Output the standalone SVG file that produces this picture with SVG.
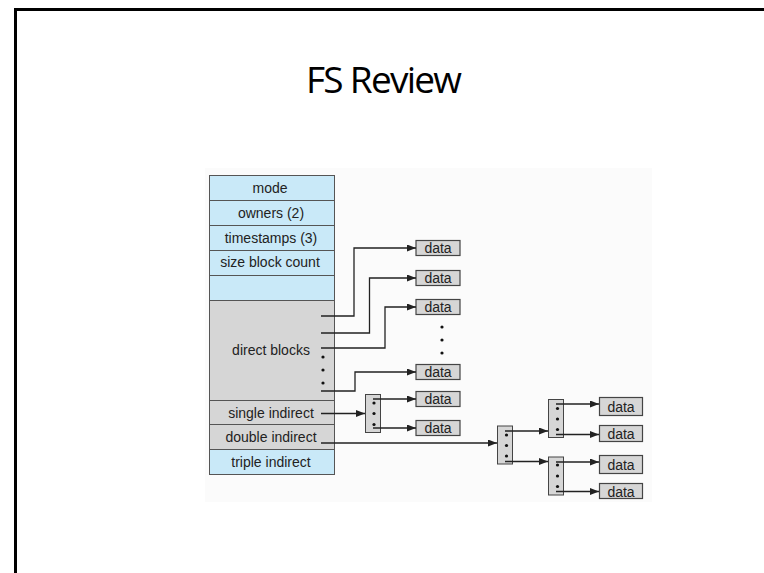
<svg xmlns="http://www.w3.org/2000/svg" width="764" height="573" viewBox="0 0 764 573">
<style>
.frame{fill:none;stroke:#000;stroke-width:3}
.title{font-family:"Open Sans","Liberation Sans",sans-serif;font-size:37px;fill:#000}
.lbl{font-family:"Liberation Sans",Arial,sans-serif;font-size:14px;fill:#222;text-anchor:middle}
.blue{fill:#c9e9f8;stroke:#555;stroke-width:1}
.gray{fill:#d6d6d6;stroke:#555;stroke-width:1}
.ptr{fill:#d6d6d6;stroke:#444;stroke-width:1}
.data{fill:#d6d6d6;stroke:#444;stroke-width:1.2}
.dot{fill:#111}
.wire{fill:none;stroke:#222;stroke-width:1.3}
</style>
<defs>
<marker id="ah" markerWidth="9" markerHeight="7" refX="9" refY="3.5" orient="auto" markerUnits="userSpaceOnUse">
<path d="M0,0 L9,3.5 L0,7 Z" fill="#222"/>
</marker>
</defs>
<rect width="764" height="573" fill="#fff"/>
<rect class="frame" x="15.5" y="9.5" width="760" height="580"/>
<text class="title" x="306" y="93" textLength="156">FS Review</text>
<rect x="205" y="168" width="447" height="334" fill="#fbfbfb"/>

<g id="inode">
<rect class="blue" x="209.5" y="175.5" width="125" height="25"/>
<text class="lbl" x="270" y="192.5">mode</text>
<rect class="blue" x="209.5" y="200.5" width="125" height="25"/>
<text class="lbl" x="271" y="217.5">owners (2)</text>
<rect class="blue" x="209.5" y="225.5" width="125" height="25"/>
<text class="lbl" x="271" y="242.5">timestamps (3)</text>
<rect class="blue" x="209.5" y="250.5" width="125" height="25"/>
<text class="lbl" x="270" y="266.5">size block count</text>
<rect class="blue" x="209.5" y="275.5" width="125" height="25"/>
<rect class="gray" x="209.5" y="300.5" width="125" height="100"/>
<text class="lbl" x="271" y="355">direct blocks</text>
<circle class="dot" cx="323" cy="357" r="1.6"/>
<circle class="dot" cx="323" cy="370" r="1.6"/>
<circle class="dot" cx="323" cy="383" r="1.6"/>
<rect class="gray" x="209.5" y="400.5" width="125" height="24"/>
<text class="lbl" x="271" y="418">single indirect</text>
<rect class="gray" x="209.5" y="424.5" width="125" height="25"/>
<text class="lbl" x="271" y="442">double indirect</text>
<rect class="blue" x="209.5" y="449.5" width="125" height="25"/>
<text class="lbl" x="271" y="466.5">triple indirect</text>
</g>

<g id="data-direct">
<rect class="data" x="416" y="240.5" width="44" height="15"/><text class="lbl" x="438" y="253">data</text>
<rect class="data" x="416" y="270.5" width="44" height="15"/><text class="lbl" x="438" y="283">data</text>
<rect class="data" x="416" y="299.5" width="44" height="15"/><text class="lbl" x="438" y="312">data</text>
<circle class="dot" cx="442" cy="327" r="1.6"/>
<circle class="dot" cx="442" cy="340" r="1.6"/>
<circle class="dot" cx="442" cy="353" r="1.6"/>
<rect class="data" x="416" y="364.5" width="44" height="15"/><text class="lbl" x="438" y="377">data</text>
</g>

<g id="single-block">
<rect class="ptr" x="365.5" y="394.5" width="15" height="38"/>
<circle class="dot" cx="374" cy="403" r="1.6"/>
<circle class="dot" cx="374" cy="413.5" r="1.6"/>
<circle class="dot" cx="374" cy="424.5" r="1.6"/>
</g>
<g id="data-single">
<rect class="data" x="416" y="391.5" width="44" height="15"/><text class="lbl" x="438" y="404">data</text>
<rect class="data" x="416" y="420.5" width="44" height="15"/><text class="lbl" x="438" y="433">data</text>
</g>

<g id="double-block">
<rect class="ptr" x="497.5" y="426" width="15" height="38"/>
<circle class="dot" cx="506.5" cy="435" r="1.6"/>
<circle class="dot" cx="506.5" cy="445.5" r="1.6"/>
<circle class="dot" cx="506.5" cy="456" r="1.6"/>
</g>
<g id="double-sub1">
<rect class="ptr" x="548.5" y="399.5" width="15" height="38"/>
<circle class="dot" cx="557.5" cy="408.5" r="1.6"/>
<circle class="dot" cx="557.5" cy="419" r="1.6"/>
<circle class="dot" cx="557.5" cy="429.5" r="1.6"/>
</g>
<g id="double-sub2">
<rect class="ptr" x="548.5" y="457" width="15" height="38"/>
<circle class="dot" cx="557.5" cy="465" r="1.6"/>
<circle class="dot" cx="557.5" cy="476" r="1.6"/>
<circle class="dot" cx="557.5" cy="486.5" r="1.6"/>
</g>
<g id="data-double">
<rect class="data" x="599.5" y="397.5" width="43" height="18"/><text class="lbl" x="621" y="411.5">data</text>
<rect class="data" x="599.5" y="425.5" width="43" height="16"/><text class="lbl" x="621" y="438.5">data</text>
<rect class="data" x="599.5" y="455.5" width="43" height="18"/><text class="lbl" x="621" y="469.5">data</text>
<rect class="data" x="599.5" y="483.5" width="43" height="15"/><text class="lbl" x="621" y="496.5">data</text>
</g>

<g id="connectors">
<path class="wire" d="M321,316 H354 V248 H416" marker-end="url(#ah)"/>
<path class="wire" d="M321,333 H369.5 V278 H416" marker-end="url(#ah)"/>
<path class="wire" d="M321,348 H385 V307 H416" marker-end="url(#ah)"/>
<path class="wire" d="M321,391 H355 V372 H416" marker-end="url(#ah)"/>
<path class="wire" d="M321,413.5 H365" marker-end="url(#ah)"/>
<path class="wire" d="M373,399 H416" marker-end="url(#ah)"/>
<path class="wire" d="M373,428 H416" marker-end="url(#ah)"/>
<path class="wire" d="M321,443 H497" marker-end="url(#ah)"/>
<path class="wire" d="M505,431 H548" marker-end="url(#ah)"/>
<path class="wire" d="M505,461.5 H548" marker-end="url(#ah)"/>
<path class="wire" d="M556,404 H599" marker-end="url(#ah)"/>
<path class="wire" d="M556,434.5 H599" marker-end="url(#ah)"/>
<path class="wire" d="M556,462 H599" marker-end="url(#ah)"/>
<path class="wire" d="M556,491.5 H599" marker-end="url(#ah)"/>
</g>
</svg>
